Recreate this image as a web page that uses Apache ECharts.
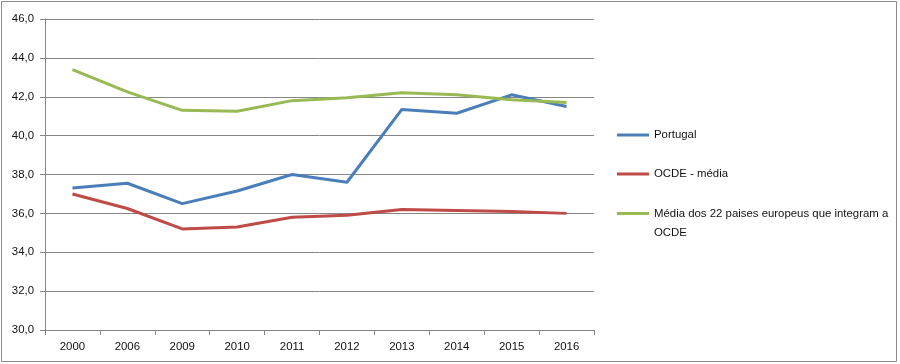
<!DOCTYPE html>
<html>
<head>
<meta charset="utf-8">
<script src="https://cdn.jsdelivr.net/npm/echarts@6/dist/echarts.min.js"></script>
<style>html,body{margin:0;padding:0;background:#fff}#c{width:900px;height:364px}</style>
</head>
<body>
<div id="c"></div>
<script>
var categories = ['2000','2006','2009','2010','2011','2012','2013','2014','2015','2016'];
var portugal = [37.3, 37.55, 36.5, 37.15, 38.0, 37.6, 41.35, 41.15, 42.1, 41.5];
var ocde = [37.0, 36.25, 35.2, 35.3, 35.8, 35.9, 36.2, 36.15, 36.1, 36.0];
var europa22 = [43.4, 42.25, 41.3, 41.25, 41.8, 41.95, 42.2, 42.1, 41.85, 41.7];
var names = ['Portugal', 'OCDE - média', 'Média dos 22 paises europeus que integram a\nOCDE'];
var colors = ['#4a7ebb', '#be4b48', '#98b954'];

var font = 'Liberation Sans, Arial, sans-serif';
var chart = echarts.init(document.getElementById('c'), null, {renderer: 'canvas'});
function legendAt(name, top, fmt) {
  return {
    orient: 'vertical', left: 617, top: top, padding: 0,
    data: [name], icon: 'rect', itemWidth: 32, itemHeight: 3, itemGap: 0, itemTextGap: 2,
    itemStyle: {borderWidth: 0},
    textStyle: {fontFamily: font, fontSize: 11.4, color: '#111', lineHeight: 19},
    formatter: fmt || function (n) { return n; },
    selectedMode: false
  };
}
chart.setOption({
  animation: false,
  color: colors,
  textStyle: {fontFamily: font},
  graphic: [{
    type: 'rect', shape: {x: 1.5, y: 1.5, width: 895, height: 360},
    style: {fill: 'none', stroke: '#8c8c8c', lineWidth: 1}, silent: true
  }],
  grid: {left: 45, right: 306, top: 19, bottom: 34, containLabel: false},
  legend: [
    legendAt(names[0], 125.5),
    legendAt(names[1], 164.5),
    legendAt(names[2], 185, function (n) { return '\n' + n; })
  ],
  xAxis: {
    type: 'category', data: categories, boundaryGap: true,
    axisLine: {lineStyle: {color: '#868686', width: 1}},
    axisTick: {show: true, length: 5, lineStyle: {color: '#868686'}},
    axisLabel: {fontFamily: font, fontSize: 11.4, color: '#111', margin: 11}
  },
  yAxis: {
    type: 'value', min: 30, max: 46, interval: 2,
    axisLine: {show: true, lineStyle: {color: '#868686', width: 1}},
    axisTick: {show: true, length: 5, lineStyle: {color: '#868686'}},
    splitLine: {lineStyle: {color: '#868686', width: 1}},
    axisLabel: {fontFamily: font, fontSize: 11.4, color: '#111', margin: 11,
      formatter: function (v) { return v.toFixed(1).replace('.', ','); }}
  },
  series: [
    {name: names[0], type: 'line', data: portugal, symbol: 'none', lineStyle: {width: 3, color: colors[0]}, itemStyle: {color: colors[0]}},
    {name: names[1], type: 'line', data: ocde, symbol: 'none', lineStyle: {width: 3, color: colors[1]}, itemStyle: {color: colors[1]}},
    {name: names[2], type: 'line', data: europa22, symbol: 'none', lineStyle: {width: 3, color: colors[2]}, itemStyle: {color: colors[2]}}
  ]
});
</script>
</body>
</html>
